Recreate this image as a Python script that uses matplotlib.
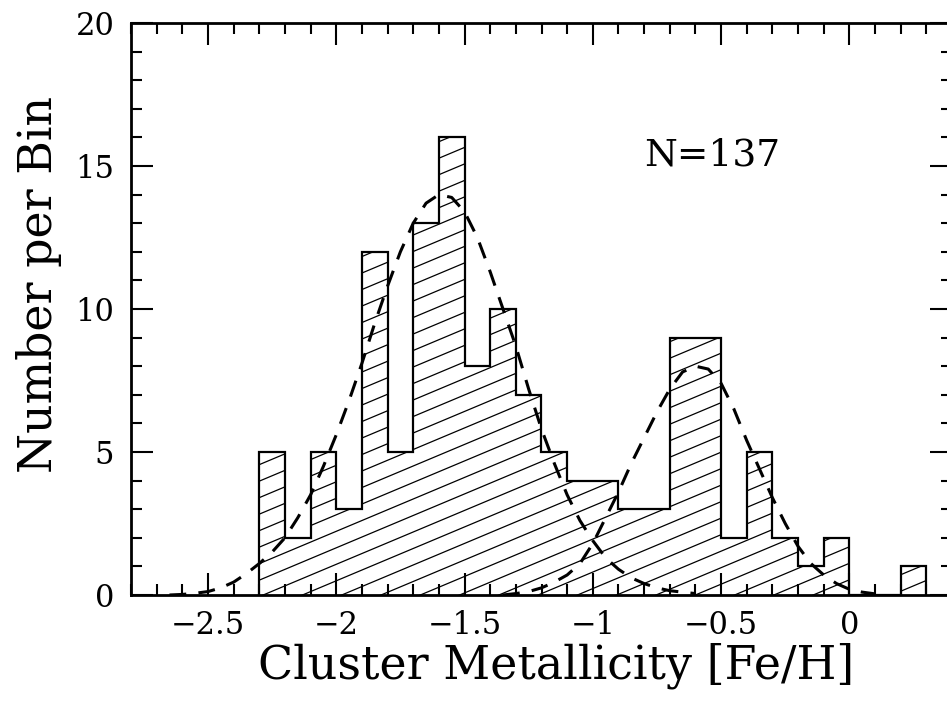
import numpy as np
import matplotlib
matplotlib.use("Agg")
import matplotlib.pyplot as plt
from matplotlib.collections import LineCollection

# histogram of cluster metallicities, bins of 0.1 dex
edges = np.round(np.arange(-2.3, 0.35, 0.1), 1)
counts = [5, 2, 5, 3, 12, 5, 13, 16, 8, 10, 7, 5, 4, 4, 3, 3, 9, 9, 2, 5, 2, 1, 2, 0, 0, 1]

# dashed curves (metal-poor and metal-rich components)
poor_x = [-2.65, -2.6, -2.55, -2.5, -2.45, -2.4, -2.35, -2.3, -2.25, -2.2, -2.15, -2.1,
          -2.05, -2.0, -1.95, -1.9, -1.85, -1.8, -1.75, -1.7, -1.65, -1.6, -1.55, -1.5,
          -1.45, -1.4, -1.35, -1.3, -1.25, -1.2, -1.15, -1.1, -1.05, -1.0, -0.95, -0.9,
          -0.85, -0.8, -0.75, -0.7, -0.65, -0.6]
poor_y = [0.0, 0.02, 0.06, 0.12, 0.25, 0.45, 0.75, 1.1, 1.5, 2.0, 2.7, 3.5,
          4.5, 5.6, 6.8, 8.1, 9.5, 10.8, 12.0, 13.0, 13.7, 14.0, 13.9, 13.4,
          12.5, 11.3, 10.0, 8.7, 7.2, 5.8, 4.6, 3.5, 2.6, 1.9, 1.3, 0.9,
          0.6, 0.4, 0.25, 0.15, 0.1, 0.05]
rich_x = [-1.35, -1.3, -1.25, -1.2, -1.15, -1.1, -1.05, -1.0, -0.95, -0.9, -0.85, -0.8,
          -0.75, -0.7, -0.65, -0.6, -0.55, -0.5, -0.45, -0.4, -0.35, -0.3, -0.25, -0.2,
          -0.15, -0.1, -0.05, 0.0, 0.05, 0.1]
rich_y = [0.0, 0.05, 0.12, 0.25, 0.45, 0.7, 1.1, 1.8, 2.7, 3.6, 4.6, 5.5,
          6.4, 7.2, 7.8, 8.0, 7.9, 7.4, 6.5, 5.4, 4.4, 3.4, 2.5, 1.7,
          1.1, 0.7, 0.4, 0.2, 0.1, 0.04]

n_total = 137

plt.rcParams['font.family'] = 'DejaVu Serif'

fig = plt.figure(figsize=(9.47, 7.01), dpi=100)
ax = fig.add_axes([131/947, 106/701, 821/947, 572/701])

step = ax.stairs(counts, edges, fill=True, facecolor='none', edgecolor='black',
                 linewidth=1.6, zorder=3)

# slanted hatching, clipped to the histogram outline
W, H = 821.0, 572.0
slope = 0.42 * W / H
gap = 16.5 / H
offsets = np.arange(-slope - 0.1, 1.1, gap)
segs = [[(0, c), (1, c + slope)] for c in offsets]
hatch = LineCollection(segs, colors='black', linewidths=0.9, transform=ax.transAxes, zorder=2)
ax.add_collection(hatch)
hatch.set_clip_path(step)

ax.plot(poor_x, poor_y, color='black', lw=2.2, linestyle=(0, (5.5, 4.0)), zorder=4)
ax.plot(rich_x, rich_y, color='black', lw=2.2, linestyle=(0, (5.5, 4.0)), zorder=4)

ax.text(-0.8, 15, 'N=' + str(n_total), fontsize=27, ha='left', va='baseline')

ax.set_xlim(-2.8, 0.4)
ax.set_ylim(0, 20)
ax.set_xticks([-2.5, -2, -1.5, -1, -0.5, 0])
ax.set_xticklabels(['\u22122.5', '\u22122', '\u22121.5', '\u22121', '\u22120.5', '0'])
ax.set_xticks(np.arange(-2.8, 0.41, 0.1), minor=True)
ax.set_yticks([0, 5, 10, 15, 20])
ax.set_yticks(np.arange(0, 21, 1), minor=True)

ax.tick_params(which='both', direction='in', top=True, right=True, width=1.5)
ax.tick_params(which='major', length=16, labelsize=22)
ax.tick_params(which='minor', length=8)
ax.tick_params(axis='x', which='major', pad=11)
ax.tick_params(axis='y', which='major', pad=12)
for s in ax.spines.values():
    s.set_linewidth(2.0)

ax.set_xlabel('Cluster Metallicity [Fe/H]', fontsize=33, va='center')
ax.set_ylabel('Number per Bin', fontsize=33, va='center')
ax.xaxis.set_label_coords(0.518, -0.124)
ax.yaxis.set_label_coords(-0.112, 0.542)

fig.savefig('out.png', dpi=100)
